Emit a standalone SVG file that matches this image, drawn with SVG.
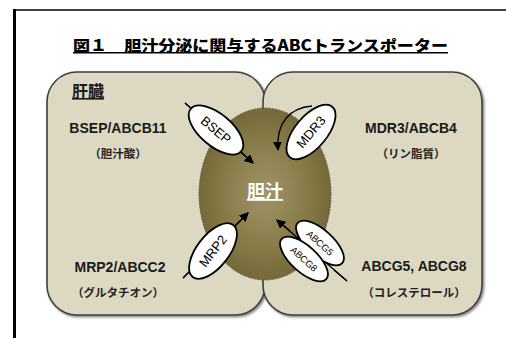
<svg xmlns="http://www.w3.org/2000/svg" width="506" height="338" viewBox="0 0 506 338">
  <defs>
    <radialGradient id="bileFill" cx="50%" cy="50%" r="55%">
      <stop offset="0" stop-color="#a0956a"/>
      <stop offset="0.6" stop-color="#877a48"/>
      <stop offset="1" stop-color="#706335"/>
    </radialGradient>
    <marker id="arrow" viewBox="0 0 10 10" refX="9" refY="5" markerWidth="9" markerHeight="9" markerUnits="userSpaceOnUse" orient="auto">
      <path d="M0,0 L10,5 L0,10 Z" fill="#000"/>
    </marker>
    <filter id="shadow" x="-5%" y="-5%" width="110%" height="110%">
      <feDropShadow dx="1.5" dy="1.5" stdDeviation="1" flood-color="#000" flood-opacity="0.5"/>
    </filter>
  </defs>
  <style>
    .frame { stroke: #000; fill: none; }
    .cell { fill: #ddd8c1; stroke: #404040; stroke-width: 1.6; }
    .lbl { font-family: "Liberation Sans", "Noto Sans CJK JP", sans-serif; font-weight: bold; font-size: 14px; fill: #1a1a1a; text-anchor: middle; }
    .sub { font-family: "Noto Sans CJK JP", sans-serif; font-weight: 600; font-size: 11.5px; fill: #222; text-anchor: middle; }
    .trans { fill: #fff; stroke: #000; stroke-width: 1.8; }
    .tname { font-family: "Liberation Sans Narrow", "Liberation Sans", sans-serif; font-size: 13px; fill: #000; text-anchor: middle; dominant-baseline: central; }
    .tsmall { font-size: 9.5px; }
    .flow { stroke: #000; stroke-width: 1.3; fill: none; marker-end: url(#arrow); }
  </style>

  <!-- page frame -->
  <line class="frame" x1="14.5" y1="9" x2="14.5" y2="338" stroke-width="3"/>
  <line class="frame" x1="14" y1="10" x2="506" y2="10" stroke-width="1.5"/>

  <!-- title -->
  <text x="73" y="51" textLength="375" lengthAdjust="spacingAndGlyphs" font-family="Noto Sans CJK JP, sans-serif" font-weight="900" font-size="15" text-decoration="underline" fill="#000">図１　胆汁分泌に関与するABCトランスポーター</text>

  <!-- hepatocyte cells -->
  <g id="cell-left" filter="url(#shadow)">
    <rect class="cell" x="47" y="72" width="218" height="243" rx="30" ry="30"/>
  </g>
  <g id="cell-right" filter="url(#shadow)">
    <rect class="cell" x="263" y="72" width="219" height="243" rx="30" ry="30"/>
  </g>

  <!-- bile canaliculus -->
  <g id="bile">
    <ellipse cx="265" cy="194" rx="66" ry="86" fill="url(#bileFill)" stroke="#5a5030" stroke-width="0.8" stroke-dasharray="2 1"/>
    <text x="265" y="198" font-family="Noto Sans CJK JP, sans-serif" font-weight="bold" font-size="18" fill="#fff" text-anchor="middle" text-decoration="underline">胆汁</text>
  </g>

  <!-- cell labels -->
  <g id="liver-label">
    <text x="72" y="97" font-family="Noto Sans CJK JP, sans-serif" font-weight="bold" font-size="16" fill="#1a1a1a" text-decoration="underline">肝臓</text>
  </g>
  <g id="label-bsep">
    <text class="lbl" x="118" y="133">BSEP/ABCB11</text>
    <text class="sub" x="118" y="158">（胆汁酸）</text>
  </g>
  <g id="label-mdr3">
    <text class="lbl" x="411" y="133">MDR3/ABCB4</text>
    <text class="sub" x="411" y="158">（リン脂質）</text>
  </g>
  <g id="label-mrp2">
    <text class="lbl" x="120" y="272">MRP2/ABCC2</text>
    <text class="sub" x="118" y="297">（グルタチオン）</text>
  </g>
  <g id="label-abcg">
    <text class="lbl" x="414" y="271">ABCG5, ABCG8</text>
    <text class="sub" x="414" y="297">（コレステロール）</text>
  </g>

  <!-- transport directions -->
  <g id="connectors">
    <line class="flow" x1="185" y1="103" x2="253" y2="163"/>
    <path class="flow" d="M312,106 C290,108 276,122 278,150"/>
    <line class="flow" x1="183" y1="278" x2="248" y2="213"/>
    <line class="flow" x1="347" y1="281" x2="277" y2="220"/>
  </g>

  <!-- transporters -->
  <g id="t-bsep" transform="translate(216,130) rotate(40)">
    <ellipse class="trans" rx="33" ry="16"/>
    <text class="tname">BSEP</text>
  </g>
  <g id="t-mdr3" transform="translate(311,132) rotate(-50)">
    <ellipse class="trans" rx="33" ry="16"/>
    <text class="tname">MDR3</text>
  </g>
  <g id="t-mrp2" transform="translate(213,251) rotate(-52)">
    <ellipse class="trans" rx="33" ry="16"/>
    <text class="tname">MRP2</text>
  </g>
  <g id="t-abcg5" transform="translate(320,243) rotate(42)">
    <ellipse class="trans" rx="30" ry="13"/>
    <text class="tname tsmall">ABCG5</text>
  </g>
  <g id="t-abcg8" transform="translate(304,259) rotate(42)">
    <ellipse class="trans" rx="30" ry="13"/>
    <text class="tname tsmall">ABCG8</text>
  </g>

  <!-- transport line ends that cross over the transporters -->
  <g id="connector-ends">
    <line x1="185" y1="103" x2="192" y2="109" stroke="#000" stroke-width="1.3"/>
    <line x1="240" y1="151" x2="253" y2="163" class="flow"/>
    <line x1="183" y1="278" x2="189" y2="272" stroke="#000" stroke-width="1.3"/>
    <line x1="236" y1="225" x2="248" y2="213" class="flow"/>
    <line x1="347" y1="281" x2="334" y2="270" stroke="#000" stroke-width="1.3"/>
    <line x1="290" y1="231" x2="277" y2="220" class="flow"/>
  </g>
</svg>
